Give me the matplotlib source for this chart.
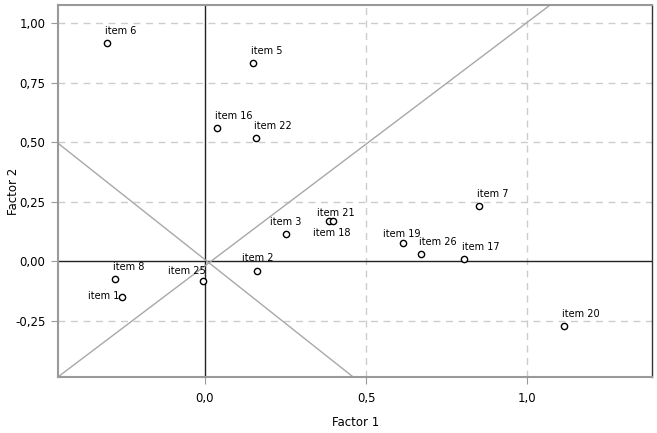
import matplotlib
matplotlib.use("Agg")
import matplotlib.pyplot as plt

# ---- data ----
items = ["item 6", "item 5", "item 16", "item 22", "item 7", "item 21", "item 18",
         "item 3", "item 19", "item 26", "item 17", "item 20", "item 2", "item 8",
         "item 25", "item 1"]
factor1 = [-0.304, 0.149, 0.037, 0.158, 0.851, 0.385, 0.398, 0.252, 0.615, 0.671,
           0.804, 1.115, 0.161, -0.280, -0.006, -0.258]
factor2 = [0.916, 0.833, 0.560, 0.518, 0.232, 0.169, 0.169, 0.115, 0.077, 0.031,
           0.010, -0.272, -0.041, -0.075, -0.083, -0.149]

x_ticks = [0.0, 0.5, 1.0]
x_tick_labels = ["0,0", "0,5", "1,0"]
y_ticks = [-0.25, 0.0, 0.25, 0.5, 0.75, 1.0]
y_tick_labels = ["-0,25", "0,00", "0,25", "0,50", "0,75", "1,00"]

# reference (rotation) lines
line_a_x = [-0.456, 1.071]
line_a_y = [-0.485, 1.077]
line_b_x = [-0.456, 0.460]
line_b_y = [0.497, -0.485]

# label offsets (pixels) per item
label_offsets = {
    "item 21": (-12, 8), "item 18": (-20, -12), "item 3": (-16, 12),
    "item 19": (-20, 9), "item 2": (-15, 13), "item 25": (-35, 10),
    "item 1": (-34, 1),
}
default_offset = (-2, 12)

# ---- figure ----
fig = plt.figure(figsize=(6.57, 4.33), dpi=100)
ax = fig.add_axes([58 / 657, 1 - 377 / 433, (652 - 58) / 657, (377 - 5) / 433])

ax.set_xlim(-0.4556, 1.387)
ax.set_ylim(-0.485, 1.077)

ax.set_xticks(x_ticks)
ax.set_xticklabels(x_tick_labels)
ax.set_yticks(y_ticks)
ax.set_yticklabels(y_tick_labels)

for t in x_ticks:
    if t != 0:
        ax.axvline(t, color="#cccccc", lw=1, ls=(0, (5, 4)), zorder=1)
for t in y_ticks:
    if t != 0:
        ax.axhline(t, color="#cccccc", lw=1, ls=(0, (5, 4)), zorder=1)

ax.axhline(0, color="#222222", lw=1, zorder=2)
ax.axvline(0, color="#222222", lw=1, zorder=2)

ax.plot(line_a_x, line_a_y, color="#a8a8a8", lw=1, zorder=2)
ax.plot(line_b_x, line_b_y, color="#a8a8a8", lw=1, zorder=2)

ax.plot(factor1, factor2, ls="none", marker="o", ms=4.5, mfc="white",
        mec="black", mew=1.0, zorder=3)

for name, x, y in zip(items, factor1, factor2):
    dx, dy = label_offsets.get(name, default_offset)
    ax.annotate(name, (x, y), xytext=(dx, dy), textcoords="offset pixels",
                ha="left", va="center", fontsize=7, color="black", zorder=4)

ax.tick_params(axis="both", which="both", direction="out", length=5,
               color="#999999", labelsize=8.5, pad=4)
ax.tick_params(axis="x", pad=6)

for side in ["left", "top", "bottom"]:
    ax.spines[side].set_color("#999999")
    ax.spines[side].set_linewidth(1.5)
ax.spines["right"].set_color("#333333")
ax.spines["right"].set_linewidth(1.0)

ax.set_xlabel("Factor 1", fontsize=8.5)
ax.set_ylabel("Factor 2", fontsize=8.5)
ax.xaxis.set_label_coords((356 - 58) / 594, (377 - 416) / 372)
ax.yaxis.set_label_coords((20 - 58) / 594, 0.5)

fig.savefig("out.png", dpi=100)
